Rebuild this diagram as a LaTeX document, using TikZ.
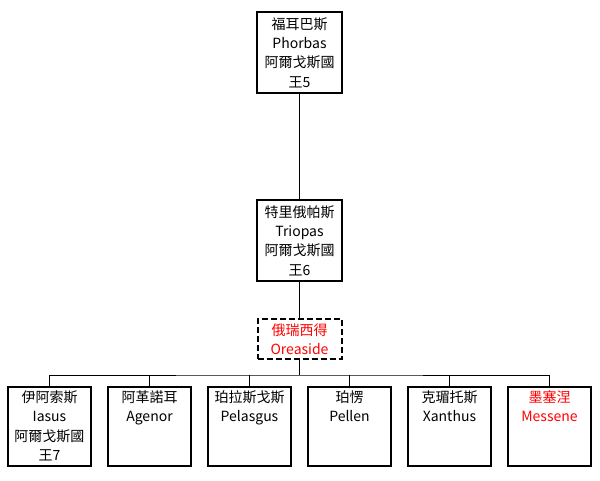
\documentclass[tikz,border=0pt]{standalone}
\usepackage{fontspec}
\setmainfont{Noto Sans CJK TC}
\usetikzlibrary{positioning}

\begin{document}
\begin{tikzpicture}[
    x=0.75pt, y=-0.75pt,
    node distance=12.75pt,
    box/.style={draw,line width=1.5pt,outer sep=0pt,align=center,minimum width=63.75pt,minimum height=60.75pt,inner sep=2pt,font=\fontsize{10.5}{14.5}\selectfont},
    wife/.style={box,dash pattern=on 4.5pt off 2.25pt,text=red,minimum height=30pt,minimum width=63pt},
    kid/.style={box,minimum width=62.25pt,minimum height=59.25pt,inner sep=3pt,text width=56pt,text height=8.5pt,text depth=44.75pt},
    link/.style={line width=0.75pt}
  ]
    \useasboundingbox (0,0) rectangle (600,481);
    \node[box] (phorbas) at (299.5,52.5) {福耳巴斯\\Phorbas\\阿爾戈斯國\\王5};
    \node[box,below=80.25pt of phorbas] (triopas) {特里俄帕斯\\Triopas\\阿爾戈斯國\\王6};
    \node[wife,below=28.5pt of triopas] (oreaside) {俄瑞西得\\Oreaside};
    \coordinate[below=12pt of oreaside] (bar);
    \node[kid] (iasus) at (49.5,426.5) {伊阿索斯\\Iasus\\阿爾戈斯國\\王7};
    \node[kid,right=of iasus] (agenor) {阿革諾耳\\Agenor};
    \node[kid,right=of agenor] (pelasgus) {珀拉斯戈斯\\Pelasgus};
    \node[kid,right=of pelasgus] (pellen) {珀愣\\Pellen};
    \node[kid,right=of pellen] (xanthus) {克瑂托斯\\Xanthus};
    \node[kid,text=red,right=of xanthus] (messene) {墨塞涅\\Messene};
    \draw[link] (phorbas)--(triopas);
    \draw[link] (triopas)--(oreaside);
    \draw[link] (oreaside)--(bar);
    \draw[link] (iasus.north) |- (bar) -| (messene.north);
    \foreach \k in {agenor,pelasgus,pellen,xanthus}
      \draw[link] (\k.north)--(\k.north |- bar);
  \end{tikzpicture}
\end{document}
